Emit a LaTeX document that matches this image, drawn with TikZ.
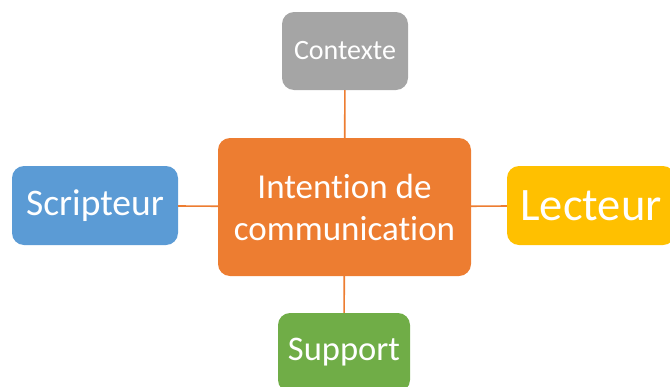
\documentclass[tikz,border=0pt]{standalone}
\usepackage{fontspec}
\setmainfont[Ligatures=NoCommon]{Carlito}
\usetikzlibrary{positioning}
\definecolor{cOrange}{HTML}{ED7D31}
\definecolor{cGray}{HTML}{A5A5A5}
\definecolor{cBlue}{HTML}{5B9BD5}
\definecolor{cYellow}{HTML}{FFC000}
\definecolor{cGreen}{HTML}{70AD47}
\tikzset{box/.style={rounded corners=12pt, text=white, align=center,
    inner sep=0pt, anchor=center}}
\tikzset{link/.style={draw=cOrange, line width=1.6pt}}

\begin{document}
\begin{tikzpicture}[x=1pt,y=-1pt]
  \useasboundingbox (0,0) rectangle (670,386);
  \clip (0,0) rectangle (670,386);

  \node[box, fill=cOrange, minimum width=253pt, minimum height=138pt,
    font=\fontsize{35}{42}\selectfont] (intent) at (344.5,207)
    {Intention de\\communication};
  \node[box, fill=cGray, minimum width=126pt, minimum height=78pt,
    font=\fontsize{28}{34}\selectfont] (ctx) at (345,51) {Contexte};
  \node[box, fill=cBlue, minimum width=166pt, minimum height=79pt,
    font=\fontsize{37.5}{45}\selectfont] (scr) at (95,205.5) {Scripteur};
  \node[box, fill=cYellow, minimum width=168pt, minimum height=79pt,
    font=\fontsize{46.5}{56}\selectfont] (lect) at (591,205.5) {Lecteur};
  \node[box, fill=cGreen, minimum width=132pt, minimum height=79pt,
    font=\fontsize{34.5}{41}\selectfont] (supp) at (344,352.5) {Support};

  \draw[link] (ctx) -- (intent);
  \draw[link] (intent) -- (supp);
  \draw[link] (scr) -- (intent);
  \draw[link] (intent) -- (lect);

\end{tikzpicture}
\end{document}
